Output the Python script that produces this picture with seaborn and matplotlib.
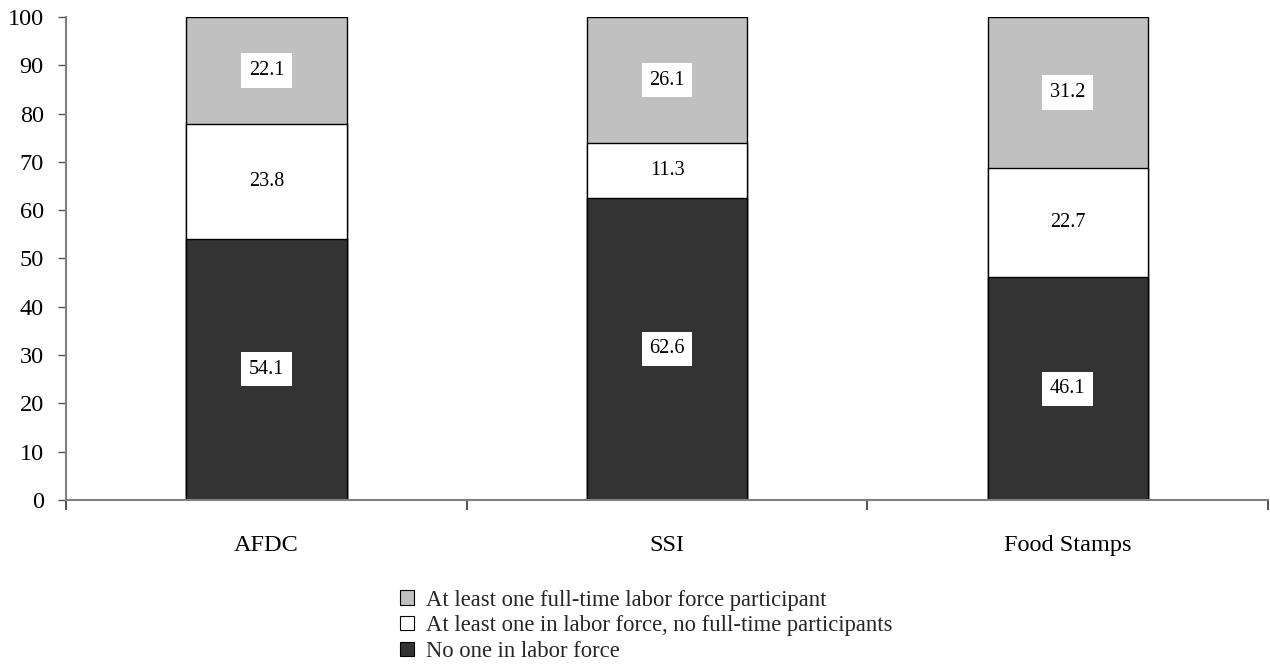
import matplotlib
matplotlib.use("Agg")
import matplotlib.pyplot as plt
import seaborn as sns
import pandas as pd
import numpy as np
from matplotlib.patches import Patch

programs = ["AFDC", "SSI", "Food Stamps"]
no_one = [54.1, 62.6, 46.1]
part_time_only = [23.8, 11.3, 22.7]
full_time = [22.1, 26.1, 31.2]

series_names = [
    "At least one full-time labor force participant",
    "At least one in labor force, no full-time participants",
    "No one in labor force",
]
colors = ["#C0C0C0", "#FFFFFF", "#333333"]
y_ticks = [0, 10, 20, 30, 40, 50, 60, 70, 80, 90, 100]

sns.set_theme(style="white")
plt.rcParams["font.family"] = ["Liberation Serif", "DejaVu Serif"]

df = pd.DataFrame({
    "program": programs,
    "no_one": no_one,
    "part": part_time_only,
    "full": full_time,
})
df["lvl1"] = df["no_one"]
df["lvl2"] = df["no_one"] + df["part"]
df["lvl3"] = df["lvl2"] + df["full"]

fig = plt.figure(figsize=(12.7, 6.67), dpi=100)
ax = fig.add_axes([0.052, 0.2504, 0.9465, 0.7241])

# Layered bars: tallest (total) first, then cumulative partial stacks on top
for col, c in zip(["lvl3", "lvl2", "lvl1"], colors):
    sns.barplot(data=df, x="program", y=col, order=programs, color=c,
                width=0.4, edgecolor="black", linewidth=1.0,
                saturation=1, ax=ax, errorbar=None)

# Segment value labels
bottoms = [np.zeros(3), np.array(no_one), np.array(no_one) + np.array(part_time_only)]
values = [no_one, part_time_only, full_time]
for b, v in zip(bottoms, values):
    for i, (bb, vv) in enumerate(zip(b, v)):
        ax.text(i, bb + vv / 2, f"{vv:.1f}", ha="center", va="center",
                fontsize=14.5, color="black",
                bbox=dict(boxstyle="square,pad=0.38", fc="white", ec="none"))

ax.set_ylim(0, 100)
ax.set_xlim(-0.5, 2.5)
ax.set_yticks(y_ticks)
ax.set_ylabel("")
ax.set_xlabel("")

ax.set_xticks(range(3))
ax.set_xticklabels(programs)
ax.set_xticks([-0.5, 0.5, 1.5, 2.5], minor=True)
ax.tick_params(axis="x", which="major", length=0, labelsize=17.5, pad=25)
ax.tick_params(axis="x", which="minor", length=7, width=1.2, color="#333333",
               direction="out", bottom=True)
ax.tick_params(axis="y", which="major", length=6, width=1, color="#555555",
               direction="out", left=True, labelsize=17.5, pad=10)
for lab in ax.get_xticklabels() + ax.get_yticklabels():
    lab.set_color("black")

for s in ["top", "right"]:
    ax.spines[s].set_visible(False)
for s in ["left", "bottom"]:
    ax.spines[s].set_color("#808080")
    ax.spines[s].set_linewidth(1.5)

handles = [Patch(facecolor=c, edgecolor="black", linewidth=0.8) for c in colors]
fig.legend(handles, series_names, loc="upper left", bbox_to_anchor=(0.315, 0.116),
           frameon=False, fontsize=16.3, handlelength=0.6, handleheight=0.6,
           handletextpad=0.55, labelspacing=0.2, borderaxespad=0,
           borderpad=0)

fig.savefig("out.png", dpi=100, facecolor="white")
